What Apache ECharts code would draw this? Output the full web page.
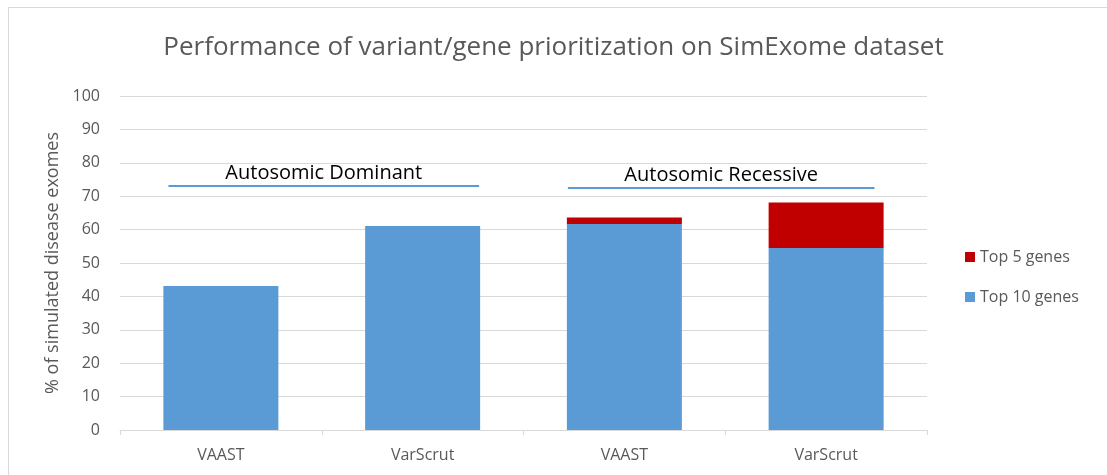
<!DOCTYPE html>
<html>
<head>
<meta charset="utf-8">
<script src="https://cdn.jsdelivr.net/npm/echarts@6/dist/echarts.min.js"></script>
<style>html,body{margin:0;padding:0;background:#fff}#c{width:1107px;height:475px}</style>
</head>
<body>
<div id="c"></div>
<script>
const categories = ['VAAST', 'VarScrut', 'VAAST', 'VarScrut'];
const top10 = [43.1, 61.1, 61.7, 54.5];
const top5 = [0, 0, 1.9, 13.6];
const groupLabels = ['Autosomic Dominant', 'Autosomic Recessive'];
const groupSpans = [[0.24, 1.78, 73.1], [2.22, 3.74, 72.5]];
const yTicks = {min: 0, max: 100, interval: 10};

const FONT = 'Open Sans';
const chart = echarts.init(document.getElementById('c'));
chart.setOption({
  animation: false,
  textStyle: {fontFamily: FONT},
  title: {
    text: 'Performance of variant/gene prioritization on SimExome dataset',
    left: 'center', top: 30,
    textStyle: {fontFamily: FONT, fontSize: 26, fontWeight: 'normal', color: '#595959'}
  },
  graphic: [{
    type: 'rect', shape: {x: 8.5, y: 7.5, width: 1110, height: 480},
    style: {fill: null, stroke: '#d9d9d9', lineWidth: 1}, silent: true
  }],
  legend: {
    orient: 'vertical', left: 960, top: 244, itemGap: 24,
    itemWidth: 10, itemHeight: 10, icon: 'rect',
    textStyle: {fontFamily: FONT, fontSize: 16, color: '#595959'},
    data: ['Top 5 genes', 'Top 10 genes']
  },
  grid: {left: 120, right: 180, top: 96, bottom: 45},
  xAxis: [{
    type: 'category', data: categories,
    axisLine: {lineStyle: {color: '#d9d9d9', width: 1}},
    axisTick: {show: true, length: 5, lineStyle: {color: '#d9d9d9'}},
    axisLabel: {fontFamily: FONT, fontSize: 16, color: '#595959', margin: 17}
  }, {
    type: 'value', min: 0, max: 4, show: false
  }],
  yAxis: {
    type: 'value', min: yTicks.min, max: yTicks.max, interval: yTicks.interval,
    name: '% of simulated disease exomes', nameLocation: 'middle', nameGap: 56,
    nameTextStyle: {fontFamily: FONT, fontSize: 18, color: '#595959'},
    axisLine: {show: false}, axisTick: {show: false},
    axisLabel: {fontFamily: FONT, fontSize: 16, color: '#595959', margin: 20},
    splitLine: {lineStyle: {color: '#d9d9d9', width: 1}}
  },
  series: [{
    name: 'Top 10 genes', type: 'bar', stack: 's', data: top10,
    barWidth: '57%', itemStyle: {color: '#5b9bd5'}
  }, {
    name: 'Top 5 genes', type: 'bar', stack: 's', data: top5,
    barWidth: '57%', itemStyle: {color: '#c00000'}
  }, {
    type: 'line', xAxisIndex: 1, data: [], silent: true,
    markLine: {
      symbol: 'none', silent: true,
      lineStyle: {color: '#5b9bd5', width: 2, type: 'solid'},
      label: {show: true, position: 'insideMiddleTop', distance: 3,
        fontFamily: FONT, fontSize: 20, color: '#000'},
      data: groupSpans.map((s, i) => [
        {coord: [s[0], s[2]], name: groupLabels[i], label: {formatter: groupLabels[i]}},
        {coord: [s[1], s[2]]}
      ])
    }
  }]
});
</script>
</body>
</html>
